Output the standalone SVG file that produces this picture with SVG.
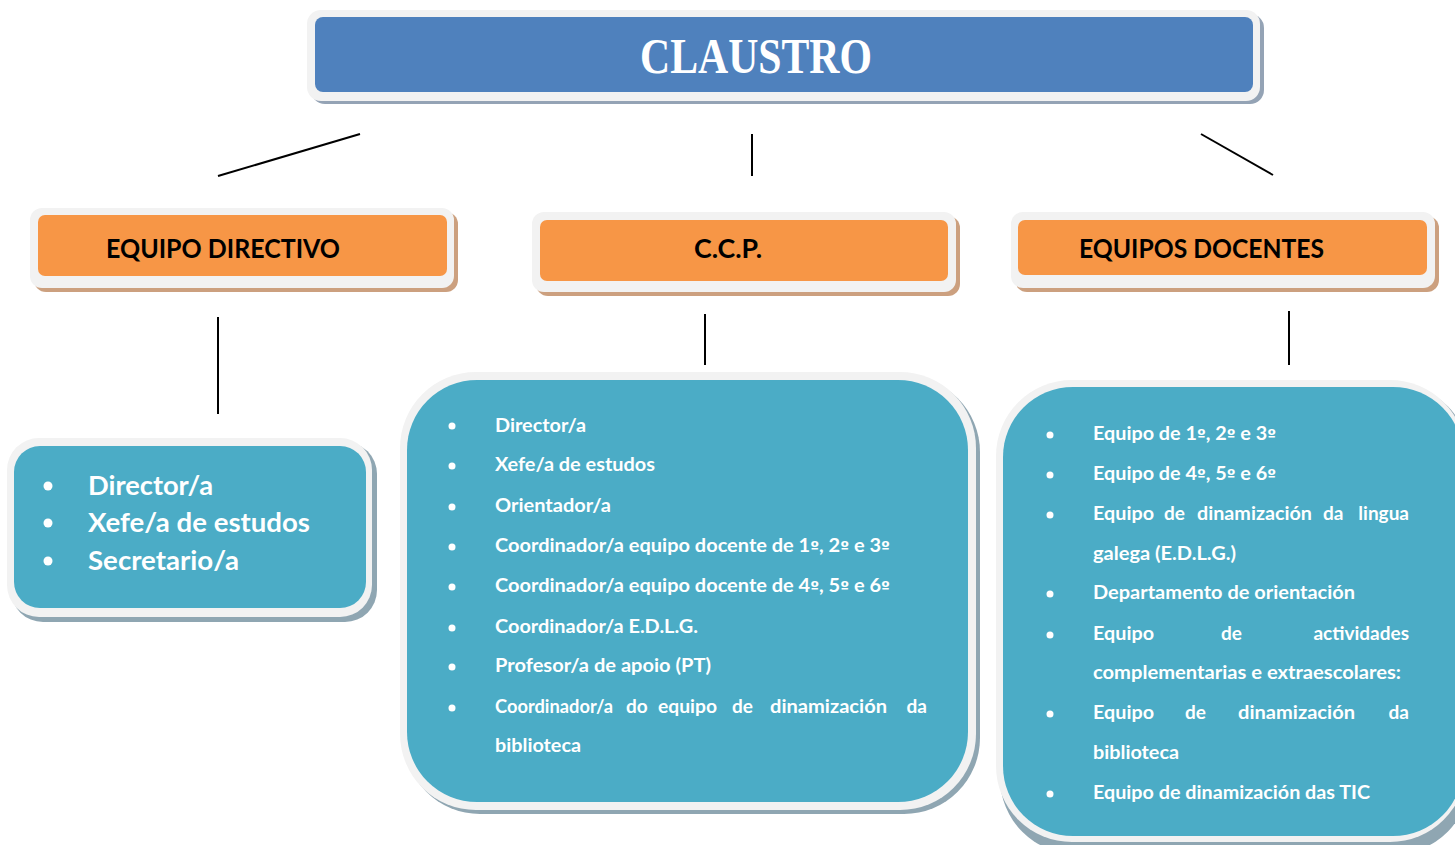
<svg xmlns="http://www.w3.org/2000/svg" width="1455" height="845" viewBox="0 0 1455 845">
<style>
.frame{fill:#F2F2F2}
.shb{fill:#8FA6B2}
.sho{fill:#CCA07F}
.shc{fill:#94A3B5}
.blue{fill:#4BACC6}
.orange{fill:#F79646}
.cl{fill:#4F81BD}
.hd{font-family:Lato,"Open Sans",sans-serif;font-weight:bold;font-size:26px;fill:#000}
.it{font-family:Lato,"Open Sans",sans-serif;font-weight:bold;font-size:19px;fill:#fff}
.big{font-family:Lato,"Open Sans",sans-serif;font-weight:bold;font-size:27px;fill:#fff}
.o{font-family:"DejaVu Sans",sans-serif;font-size:15px}
.bul{fill:#fff}
.con{stroke:#000;stroke-width:2;fill:none}
</style>
<rect width="1455" height="845" fill="#fff"/>
<g id="claustro">
<rect x="311" y="14" width="953" height="90" rx="14" class="shc"/>
<rect x="307" y="10" width="953" height="91" rx="14" class="frame"/>
<rect x="315" y="17" width="938" height="75" rx="8" class="cl"/>
<text x="756" y="73" text-anchor="middle" font-family="'Liberation Serif',serif" font-weight="bold" font-size="50" fill="#fff" textLength="232" lengthAdjust="spacingAndGlyphs">CLAUSTRO</text>
</g>
<g id="equipo-directivo">
<rect x="34" y="212" width="424" height="80" rx="12" class="sho"/>
<rect x="30" y="208" width="424" height="80" rx="12" class="frame"/>
<rect x="38" y="215" width="409" height="61" rx="7" class="orange"/>
<text x="106" y="258" class="hd" textLength="234" lengthAdjust="spacingAndGlyphs">EQUIPO DIRECTIVO</text>
</g>
<g id="ccp">
<rect x="536" y="216" width="424" height="80" rx="12" class="sho"/>
<rect x="532" y="212" width="424" height="80" rx="12" class="frame"/>
<rect x="540" y="220" width="408" height="61" rx="7" class="orange"/>
<text x="694" y="258" class="hd" textLength="68" lengthAdjust="spacingAndGlyphs">C.C.P.</text>
</g>
<g id="equipos-docentes">
<rect x="1015" y="216" width="424" height="76" rx="12" class="sho"/>
<rect x="1011" y="212" width="424" height="76" rx="12" class="frame"/>
<rect x="1018" y="220" width="409" height="55" rx="7" class="orange"/>
<text x="1079" y="258" class="hd" textLength="245" lengthAdjust="spacingAndGlyphs">EQUIPOS DOCENTES</text>
</g>
<g id="connectors">
<line x1="360" y1="134" x2="218" y2="176" class="con"/>
<line x1="752" y1="134" x2="752" y2="176" class="con"/>
<line x1="1201" y1="134" x2="1273" y2="175" class="con"/>
<line x1="218" y1="317" x2="218" y2="414" class="con"/>
<line x1="705" y1="314" x2="705" y2="365" class="con"/>
<line x1="1289" y1="311" x2="1289" y2="365" class="con"/>
</g>
<g id="directivo-members">
<rect x="11" y="442" width="366" height="180" rx="32" class="shb"/>
<rect x="7" y="438" width="365" height="179" rx="32" class="frame"/>
<rect x="14" y="446" width="352" height="162" rx="26" class="blue"/>
<circle cx="48" cy="486" r="4.5" class="bul"/>
<circle cx="48" cy="523" r="4.5" class="bul"/>
<circle cx="48" cy="561" r="4.5" class="bul"/>
<text x="88" y="495" class="big" textLength="125" lengthAdjust="spacingAndGlyphs">Director/a</text>
<text x="88" y="532" class="big" textLength="222" lengthAdjust="spacingAndGlyphs">Xefe/a de estudos</text>
<text x="88" y="570" class="big" textLength="151" lengthAdjust="spacingAndGlyphs">Secretario/a</text>
</g>
<g id="ccp-members">
<rect x="404" y="376" width="576" height="438" rx="76" class="shb"/>
<rect x="400" y="372" width="576" height="438" rx="76" class="frame"/>
<rect x="407" y="380" width="561" height="422" rx="70" class="blue"/>
<circle cx="452" cy="426" r="3.5" class="bul"/>
<circle cx="452" cy="466" r="3.5" class="bul"/>
<circle cx="452" cy="507" r="3.5" class="bul"/>
<circle cx="452" cy="547" r="3.5" class="bul"/>
<circle cx="452" cy="587" r="3.5" class="bul"/>
<circle cx="452" cy="628" r="3.5" class="bul"/>
<circle cx="452" cy="667" r="3.5" class="bul"/>
<circle cx="452" cy="708" r="3.5" class="bul"/>
<text x="495" y="432" class="it" textLength="91" lengthAdjust="spacingAndGlyphs">Director/a</text>
<text x="495" y="471" class="it" textLength="160" lengthAdjust="spacingAndGlyphs">Xefe/a de estudos</text>
<text x="495" y="512" class="it" textLength="116" lengthAdjust="spacingAndGlyphs">Orientador/a</text>
<text x="495" y="552" class="it" textLength="395" lengthAdjust="spacingAndGlyphs">Coordinador/a equipo docente de 1<tspan class="o">º</tspan>, 2<tspan class="o">º</tspan> e 3<tspan class="o">º</tspan></text>
<text x="495" y="592" class="it" textLength="395" lengthAdjust="spacingAndGlyphs">Coordinador/a equipo docente de 4<tspan class="o">º</tspan>, 5<tspan class="o">º</tspan> e 6<tspan class="o">º</tspan></text>
<text x="495" y="633" class="it" textLength="203" lengthAdjust="spacingAndGlyphs">Coordinador/a E.D.L.G.</text>
<text x="495" y="672" class="it" textLength="216" lengthAdjust="spacingAndGlyphs">Profesor/a de apoio (PT)</text>
<text y="713" class="it"><tspan x="495" textLength="118" lengthAdjust="spacingAndGlyphs">Coordinador/a</tspan><tspan x="626">do</tspan><tspan x="658" textLength="59" lengthAdjust="spacingAndGlyphs">equipo</tspan><tspan x="732">de</tspan><tspan x="770" textLength="117" lengthAdjust="spacingAndGlyphs">dinamización</tspan><tspan x="927" text-anchor="end">da</tspan></text>
<text x="495" y="752" class="it" textLength="86" lengthAdjust="spacingAndGlyphs">biblioteca</text>
</g>
<g id="docentes-members">
<rect x="1000" y="384" width="470" height="470" rx="76" class="shb"/>
<rect x="996" y="380" width="470" height="462" rx="76" class="frame"/>
<rect x="1003" y="387" width="460" height="449" rx="70" class="blue"/>
<circle cx="1050" cy="435" r="3.5" class="bul"/>
<circle cx="1050" cy="475" r="3.5" class="bul"/>
<circle cx="1050" cy="515" r="3.5" class="bul"/>
<circle cx="1050" cy="594" r="3.5" class="bul"/>
<circle cx="1050" cy="635" r="3.5" class="bul"/>
<circle cx="1050" cy="714" r="3.5" class="bul"/>
<circle cx="1050" cy="794" r="3.5" class="bul"/>
<text x="1093" y="440" class="it" textLength="183" lengthAdjust="spacingAndGlyphs">Equipo de 1<tspan class="o">º</tspan>, 2<tspan class="o">º</tspan> e 3<tspan class="o">º</tspan></text>
<text x="1093" y="480" class="it" textLength="183" lengthAdjust="spacingAndGlyphs">Equipo de 4<tspan class="o">º</tspan>, 5<tspan class="o">º</tspan> e 6<tspan class="o">º</tspan></text>
<text y="520" class="it"><tspan x="1093" textLength="61" lengthAdjust="spacingAndGlyphs">Equipo</tspan><tspan x="1164">de</tspan><tspan x="1197" textLength="115" lengthAdjust="spacingAndGlyphs">dinamización</tspan><tspan x="1323">da</tspan><tspan x="1409" text-anchor="end">lingua</tspan></text>
<text x="1093" y="560" class="it" textLength="143" lengthAdjust="spacingAndGlyphs">galega (E.D.L.G.)</text>
<text x="1093" y="599" class="it" textLength="262" lengthAdjust="spacingAndGlyphs">Departamento de orientación</text>
<text y="640" class="it"><tspan x="1093" textLength="61" lengthAdjust="spacingAndGlyphs">Equipo</tspan><tspan x="1221">de</tspan><tspan x="1409" text-anchor="end">actividades</tspan></text>
<text x="1093" y="679" class="it" textLength="308" lengthAdjust="spacingAndGlyphs">complementarias e extraescolares:</text>
<text y="719" class="it"><tspan x="1093" textLength="61" lengthAdjust="spacingAndGlyphs">Equipo</tspan><tspan x="1185">de</tspan><tspan x="1238" textLength="117" lengthAdjust="spacingAndGlyphs">dinamización</tspan><tspan x="1409" text-anchor="end">da</tspan></text>
<text x="1093" y="759" class="it" textLength="86" lengthAdjust="spacingAndGlyphs">biblioteca</text>
<text x="1093" y="799" class="it" textLength="277" lengthAdjust="spacingAndGlyphs">Equipo de dinamización das TIC</text>
</g>
</svg>
